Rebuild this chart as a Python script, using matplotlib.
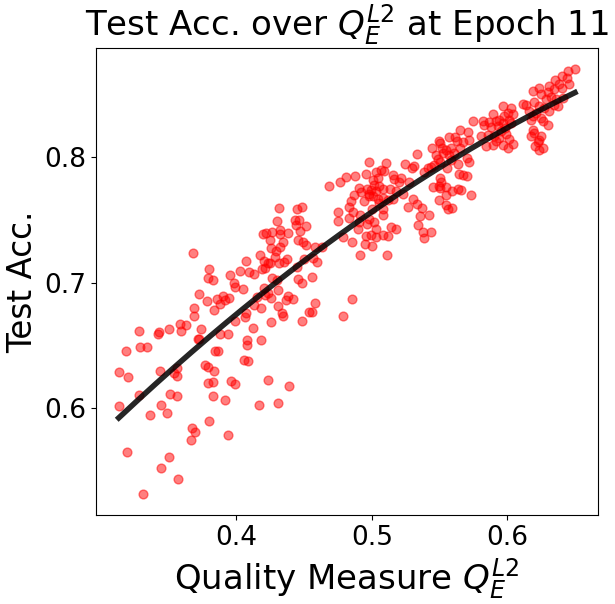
import matplotlib
matplotlib.use("Agg")
import matplotlib.pyplot as plt
import numpy as np

# (quality measure, test accuracy), grouped by x band
band_low = [(0.3678, 0.7234), (0.380, 0.711), (0.379, 0.704), (0.383, 0.702), (0.395, 0.706),
            (0.3985, 0.700), (0.3987, 0.6965), (0.372, 0.691), (0.378, 0.685), (0.3855, 0.687),
            (0.390, 0.6895), (0.3877, 0.683), (0.3916, 0.686), (0.3943, 0.688), (0.3833, 0.678),
            (0.369, 0.680), (0.369, 0.673), (0.358, 0.6667), (0.3626, 0.6659), (0.3589, 0.661),
            (0.3737, 0.6627), (0.350, 0.6627), (0.3427, 0.6605), (0.342, 0.6586), (0.3279, 0.661),
            (0.3286, 0.6482), (0.3338, 0.6482), (0.3183, 0.6452), (0.3717, 0.6546), (0.3722, 0.6552),
            (0.3877, 0.6586), (0.394, 0.6586), (0.3987, 0.6694), (0.3845, 0.6457), (0.3867, 0.6457),
            (0.3766, 0.6344), (0.3791, 0.6328), (0.3833, 0.6296), (0.3434, 0.6296), (0.3562, 0.632),
            (0.354, 0.6277), (0.356, 0.6256), (0.3131, 0.6288), (0.3198, 0.6248), (0.3788, 0.62),
            (0.3825, 0.6207), (0.3963, 0.621), (0.3987, 0.619), (0.3279, 0.6105), (0.3513, 0.6113),
            (0.356, 0.6094), (0.3825, 0.6094), (0.3914, 0.6062), (0.3131, 0.6014), (0.3441, 0.6022),
            (0.336, 0.5941), (0.3486, 0.5957), (0.3796, 0.5893), (0.367, 0.5836), (0.3692, 0.5804),
            (0.3663, 0.574), (0.3936, 0.578), (0.319, 0.565), (0.350, 0.561), (0.3441, 0.5522),
            (0.3567, 0.5433), (0.3308, 0.5312)]

band_mid = [(0.4681, 0.7772), (0.4762, 0.7804), (0.4807, 0.7844), (0.4873, 0.7852), (0.4954, 0.7869),
            (0.4903, 0.7756), (0.4965, 0.775), (0.4866, 0.7702), (0.4922, 0.7723), (0.4976, 0.7691),
            (0.4849, 0.7648), (0.4942, 0.7648), (0.4834, 0.7602), (0.4863, 0.7567), (0.475, 0.7562),
            (0.4753, 0.7494), (0.4829, 0.7519), (0.4915, 0.754), (0.4903, 0.7486), (0.4895, 0.7425),
            (0.4961, 0.7468), (0.4787, 0.7365), (0.4851, 0.7325), (0.4959, 0.7369), (0.4952, 0.7304),
            (0.491, 0.7218), (0.4851, 0.6871), (0.4785, 0.6734), (0.4312, 0.7594), (0.4448, 0.7586),
            (0.4482, 0.7602), (0.4433, 0.7502), (0.4465, 0.7502), (0.43, 0.749), (0.444, 0.746),
            (0.4512, 0.7449), (0.447, 0.7411), (0.4322, 0.7422), (0.4382, 0.7393), (0.4194, 0.7385),
            (0.4219, 0.7395), (0.4263, 0.7403), (0.4325, 0.7387), (0.4246, 0.7339), (0.434, 0.732),
            (0.4452, 0.7339), (0.4489, 0.7325), (0.4512, 0.7296), (0.4253, 0.7272), (0.429, 0.7253),
            (0.4325, 0.7285), (0.4177, 0.7223), (0.4283, 0.7207), (0.4201, 0.7175), (0.4231, 0.7153),
            (0.4071, 0.7175), (0.4312, 0.7159), (0.4349, 0.7164), (0.4371, 0.7191), (0.45, 0.7191),
            (0.4568, 0.7199), (0.4593, 0.7167), (0.4578, 0.7285), (0.4632, 0.728), (0.4187, 0.711),
            (0.4214, 0.7119), (0.4251, 0.7156), (0.4029, 0.7094), (0.4089, 0.7081), (0.4133, 0.707),
            (0.4445, 0.7127), (0.426, 0.7038), (0.43, 0.7024), (0.4452, 0.703), (0.4487, 0.6998),
            (0.4556, 0.7048), (0.4047, 0.6952), (0.4201, 0.6954), (0.4231, 0.6917), (0.4305, 0.6938),
            (0.415, 0.6885), (0.4209, 0.6901), (0.4253, 0.6873), (0.4379, 0.6895), (0.4367, 0.6857),
            (0.4416, 0.6869), (0.4133, 0.6823), (0.418, 0.6798), (0.4305, 0.6812), (0.4578, 0.6836),
            (0.4337, 0.676), (0.4345, 0.6734), (0.4539, 0.6764), (0.4558, 0.6764), (0.4066, 0.6728),
            (0.4071, 0.6756), (0.4253, 0.6683), (0.4487, 0.6691), (0.412, 0.6635), (0.4076, 0.654),
            (0.4079, 0.65), (0.418, 0.6538), (0.4059, 0.6385), (0.4083, 0.6377), (0.4231, 0.6223),
            (0.4386, 0.6175), (0.4165, 0.6022), (0.4305, 0.6038)]

band_high = [(0.4982, 0.7965), (0.5105, 0.7957), (0.5245, 0.7949), (0.5297, 0.7917), (0.5314, 0.7933),
             (0.5331, 0.803), (0.5441, 0.8078), (0.5498, 0.8127), (0.5506, 0.811), (0.5572, 0.8159),
             (0.5651, 0.8215), (0.5707, 0.8199), (0.572, 0.814), (0.5616, 0.8159), (0.5626, 0.8131),
             (0.567, 0.8119), (0.5651, 0.8078), (0.5745, 0.8288), (0.5518, 0.8078), (0.5548, 0.8059),
             (0.5585, 0.8078), (0.5528, 0.8032), (0.5572, 0.8019), (0.5609, 0.8032), (0.5585, 0.7978),
             (0.5552, 0.7911), (0.5503, 0.7965), (0.5474, 0.8019), (0.5486, 0.7986), (0.5461, 0.7938),
             (0.5437, 0.7925), (0.5412, 0.7911), (0.5387, 0.7885), (0.5636, 0.7944), (0.57, 0.7998),
             (0.5715, 0.7965), (0.5641, 0.7866), (0.5675, 0.7858), (0.5702, 0.785), (0.5503, 0.7837),
             (0.551, 0.7804), (0.5498, 0.7772), (0.5449, 0.7764), (0.5548, 0.7764), (0.5506, 0.7756),
             (0.5591, 0.7729), (0.5638, 0.775), (0.5658, 0.7742), (0.5548, 0.7702), (0.5733, 0.7702),
             (0.5493, 0.7656), (0.5301, 0.7664), (0.5331, 0.7629), (0.5368, 0.7597), (0.5548, 0.7615),
             (0.556, 0.7589), (0.5591, 0.7594), (0.5264, 0.7602), (0.5358, 0.753), (0.5424, 0.754),
             (0.5338, 0.746), (0.538, 0.7401), (0.5387, 0.7355), (0.5439, 0.7401), (0.5109, 0.7218),
             (0.5031, 0.7879), (0.5068, 0.7898), (0.5092, 0.789), (0.5006, 0.7817), (0.5043, 0.7831),
             (0.5018, 0.7782), (0.5055, 0.7772), (0.5085, 0.775), (0.4994, 0.7742), (0.5031, 0.7729),
             (0.5159, 0.7858), (0.5166, 0.7823), (0.5216, 0.7831), (0.5203, 0.7804), (0.5277, 0.7804),
             (0.5134, 0.775), (0.5178, 0.7729), (0.5227, 0.771), (0.5153, 0.7669), (0.5116, 0.7656),
             (0.4982, 0.771), (0.5006, 0.7691), (0.5043, 0.7664), (0.508, 0.7675), (0.505, 0.7637),
             (0.5001, 0.7589), (0.508, 0.7589), (0.5085, 0.754), (0.4982, 0.7508), (0.5018, 0.7481),
             (0.5031, 0.7427), (0.4994, 0.7379), (0.5031, 0.7365), (0.508, 0.7379), (0.5116, 0.7369),
             (0.514, 0.7441), (0.5178, 0.7427), (0.5001, 0.7293)]

band_top = [(0.6445, 0.8691), (0.6499, 0.8705), (0.6403, 0.8645), (0.6437, 0.8629), (0.6354, 0.8619),
            (0.6383, 0.8584), (0.631, 0.857), (0.6347, 0.8543), (0.6403, 0.8557), (0.6457, 0.8584),
            (0.6297, 0.8522), (0.6236, 0.8557), (0.6192, 0.853), (0.6248, 0.8503), (0.6285, 0.8463),
            (0.6322, 0.8484), (0.6359, 0.8463), (0.6199, 0.8441), (0.6231, 0.8409), (0.6273, 0.8395),
            (0.631, 0.8369), (0.6347, 0.8414), (0.6371, 0.8409), (0.6408, 0.8476), (0.6211, 0.8355),
            (0.6248, 0.8315), (0.6297, 0.8261), (0.626, 0.8288), (0.6174, 0.8301), (0.6113, 0.8422),
            (0.6137, 0.8414), (0.6187, 0.8221), (0.6199, 0.8194), (0.6248, 0.8167), (0.6236, 0.814),
            (0.6224, 0.8119), (0.626, 0.8073), (0.6236, 0.806), (0.6206, 0.8092), (0.6174, 0.8172),
            (0.6187, 0.8328), (0.6162, 0.8369), (0.5965, 0.8409), (0.6027, 0.8395), (0.6039, 0.8347),
            (0.6002, 0.8355), (0.5896, 0.8347), (0.5978, 0.8328), (0.5941, 0.8301), (0.5916, 0.8288),
            (0.5867, 0.828), (0.5818, 0.8288), (0.583, 0.8261), (0.5879, 0.8242), (0.5928, 0.8248),
            (0.597, 0.8274), (0.6014, 0.8301), (0.5985, 0.8234), (0.5953, 0.8207), (0.599, 0.8189),
            (0.5904, 0.8167), (0.5941, 0.8154), (0.6014, 0.8145), (0.6039, 0.8108), (0.5916, 0.8127),
            (0.5842, 0.8086), (0.5891, 0.81), (0.5965, 0.81), (0.6002, 0.8073), (0.5805, 0.8172),
            (0.5855, 0.818), (0.6027, 0.8274)]

pts = np.array(band_low + band_mid + band_high + band_top)
q = pts[:, 0]
acc = pts[:, 1]

# quadratic trend through the points
coef = np.polyfit(q, acc, 2)
xs = np.linspace(q.min(), q.max(), 200)

fig = plt.figure(figsize=(6.15, 6.04), dpi=100)
ax = fig.add_axes([0.156, 0.147, 0.816, 0.774])
ax.scatter(q, acc, color="red", alpha=0.5, s=40)
ax.plot(xs, np.polyval(coef, xs), color="black", linewidth=4, alpha=0.85)

ax.set_xticks([0.4, 0.5, 0.6])
ax.set_yticks([0.6, 0.7, 0.8])
ax.tick_params(labelsize=19)
ax.set_title(r"Test Acc. over $Q_E^{L2}$ at Epoch 11", fontsize=24.5)
ax.set_xlabel(r"Quality Measure $Q_E^{L2}$", fontsize=24.5)
ax.set_ylabel("Test Acc.", fontsize=23.5)
fig.savefig("out.png")
